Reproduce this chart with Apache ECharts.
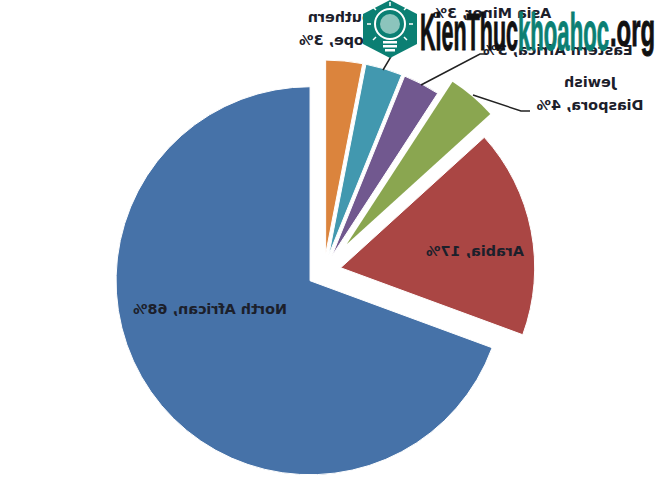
<!DOCTYPE html>
<html>
<head>
<meta charset="utf-8">
<style>
html,body{margin:0;padding:0;background:#fff;overflow:hidden}
#chart{position:absolute;left:0;top:0;width:660px;height:480px;transform:scaleX(-1)}
#mark{position:absolute;left:0;top:0;width:660px;height:480px;pointer-events:none}
</style>
<script src="https://cdn.jsdelivr.net/npm/echarts@6/dist/echarts.min.js"></script>
</head>
<body>
<div id="chart"></div>
<svg id="mark" width="660" height="480" viewBox="0 0 660 480">
  <polygon points="390,0 417,14 417,44 390,58 363,44 363,14" fill="#0b7f73"/>
  <circle cx="390" cy="24" r="15" fill="none" stroke="#fff" stroke-width="2"/>
  <circle cx="390" cy="24" r="10" fill="#8cc4bc"/>
  <g stroke="#fff" stroke-width="1.5">
    <line x1="390" y1="2" x2="390" y2="6"/><line x1="373" y1="7" x2="376" y2="10"/><line x1="407" y1="7" x2="404" y2="10"/>
    <line x1="367" y1="24" x2="371" y2="24"/><line x1="413" y1="24" x2="409" y2="24"/>
    <line x1="373" y1="40" x2="376" y2="37"/><line x1="407" y1="40" x2="404" y2="37"/>
  </g>
  <rect x="383" y="41" width="14" height="2.5" fill="#fff"/>
  <rect x="383" y="45" width="14" height="2.5" fill="#fff"/>
  <rect x="385" y="49" width="10" height="2.5" fill="#fff"/>
  <g font-family="Liberation Sans Narrow, Liberation Sans" font-weight="700" font-size="51" stroke-width="1">
    <text x="420" y="50" fill="#111" stroke="#111" textLength="98" lengthAdjust="spacingAndGlyphs">KienThuc</text>
    <text x="518" y="50" fill="#0b7f73" stroke="#0b7f73" textLength="91" lengthAdjust="spacingAndGlyphs">khoahoc</text>
    <text x="610" y="46" fill="#111" stroke="#111" font-size="46" textLength="45" lengthAdjust="spacingAndGlyphs">.org</text>
  </g>
</svg>
<script>
const categories = ['North African', 'Arabia', 'Jewish\nDiaspora', 'Eastern Africa', 'Asia Minor', 'Southern\nEurope'];
const values = [68, 17, 4, 3, 3, 3];
const colors = ['#4672a8', '#aa4644', '#8aa650', '#71588f', '#4298af', '#db843d'];

// label centres, in the chart's own (unmirrored) frame
const labelAt = [[450, 309], [185, 251], [70, 93], [102, 50], [168, 13], [315, 28]];
const leaders = [
  null, null,
  [[187, 95], [139, 111], [130, 111]],
  [[239, 85], [180, 54], [173, 54]],
  [[277, 70], [268, 55], [262, 42]],
  null
];
const GREEN = 2;

const pieBase = {type: 'pie', center: [336, 271], radius: [0, 194], startAngle: 90, clockwise: true};

const chart = echarts.init(document.getElementById('chart'), null, {renderer: 'svg', width: 660, height: 480});
chart.setOption({
  animation: false,
  backgroundColor: '#fff',
  series: [Object.assign({}, pieBase, {
    selectedMode: 'multiple',
    selectedOffset: 17,
    itemStyle: {borderColor: '#fff', borderWidth: 1},
    label: {show: false},
    labelLine: {show: false},
    data: categories.map((name, i) => ({
      name: name,
      value: values[i],
      selected: i !== GREEN,
      itemStyle: i === GREEN ? {color: 'rgba(0,0,0,0)', borderWidth: 0} : {color: colors[i]}
    }))
  }), Object.assign({}, pieBase, {
    // the Jewish Diaspora slice sits further out than the others
    selectedMode: 'multiple',
    selectedOffset: 35,
    label: {show: false},
    labelLine: {show: false},
    data: categories.map((name, i) => ({
      name: name,
      value: values[i],
      selected: i === GREEN,
      itemStyle: {color: i === GREEN ? colors[i] : 'rgba(0,0,0,0)'}
    }))
  }), Object.assign({}, pieBase, {
    silent: true,
    avoidLabelOverlap: false,
    z: 5,
    itemStyle: {color: 'rgba(0,0,0,0)'},
    label: {
      show: true,
      formatter: p => p.name + ', ' + p.value + '%',
      fontFamily: 'DejaVu Sans',
      fontWeight: 'bold',
      fontSize: 14.4,
      lineHeight: 23,
      color: '#1c202b',
      align: 'center',
      verticalAlign: 'middle'
    },
    labelLine: {show: true, lineStyle: {color: '#222', width: 1.5}},
    labelLayout: function (params) {
      const i = params.dataIndex;
      const out = {x: labelAt[i][0], y: labelAt[i][1], align: 'center', verticalAlign: 'middle'};
      if (leaders[i]) out.labelLinePoints = leaders[i];
      return out;
    },
    data: categories.map((name, i) => ({
      name: name,
      value: values[i],
      labelLine: {show: !!leaders[i]}
    }))
  })]
});
</script>
</body>
</html>
